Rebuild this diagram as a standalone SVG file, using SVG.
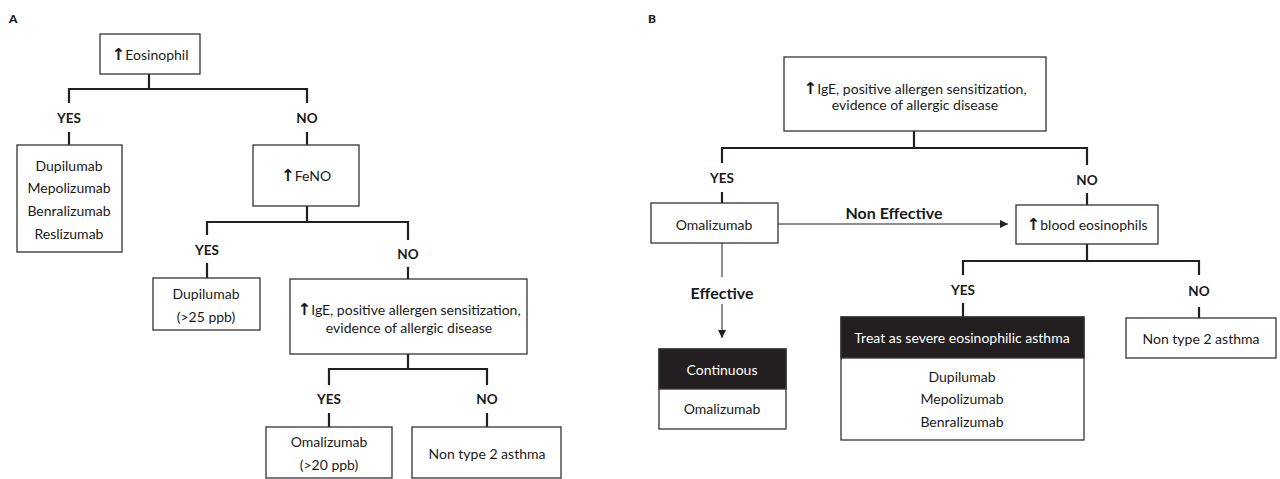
<svg xmlns="http://www.w3.org/2000/svg" width="1280" height="479" viewBox="0 0 1280 479">
<defs>
<style>
text{font-family:Lato,"Open Sans","Liberation Sans",sans-serif;font-size:14px;fill:#1a1a1a;text-anchor:middle;dominant-baseline:central}
.up{font-family:"DejaVu Sans",sans-serif;font-weight:700;font-size:16.5px}
.box{fill:#fff;stroke:#333;stroke-width:1.3}
.hdr{fill:#231f20;stroke:#333;stroke-width:1.3}
.br{fill:none;stroke:#231f20;stroke-width:2.2}
.ar{fill:none;stroke:#231f20;stroke-width:1}
.lab{font-weight:700;font-size:13.5px}
.big{font-weight:700;font-size:16px}
.panel{font-weight:900;font-size:12px;text-anchor:start}
.w{fill:#fff}
</style>
<marker id="ah" viewBox="0 0 10 10" refX="10" refY="5" markerWidth="8" markerHeight="8" markerUnits="userSpaceOnUse" orient="auto">
<path d="M0,0 L10,5 L0,10 z" fill="#231f20"/>
</marker>
</defs>
<rect width="1280" height="479" fill="#fff"/>
<text class="panel" x="9" y="18">A</text>
<text class="panel" x="648" y="18">B</text>

<g id="connectors">
<path class="br" d="M149,74 V89 M69,103 V89 H307 V103 M69,132 V145 M307,132 V145"/>
<path class="br" d="M307,206 V222 M207,235 V222 H408 V240 M207,263 V278 M408,267 V279"/>
<path class="br" d="M408,354 V369 M329,385 V369 H487 V385 M329,413 V427 M487,413 V427"/>
<path class="br" d="M914,131 V148 M722,163 V148 H1087 V165 M722,192 V203 M1087,193 V205"/>
<path class="br" d="M1087,244 V261 M963,275 V261 H1199 V275 M963,303 V317 M1199,307 V318"/>
<path class="ar" d="M778,224 H1008" marker-end="url(#ah)"/>
<path class="ar" d="M722,243 V277 M722,304 V338" marker-end="url(#ah)"/>
</g>

<g id="labels">
<text class="lab" x="69" y="118">YES</text>
<text class="lab" x="307" y="118">NO</text>
<text class="lab" x="207" y="250">YES</text>
<text class="lab" x="408" y="254">NO</text>
<text class="lab" x="329" y="399">YES</text>
<text class="lab" x="487" y="399">NO</text>
<text class="lab" x="722" y="178">YES</text>
<text class="lab" x="1087" y="180">NO</text>
<text class="lab" x="963" y="290">YES</text>
<text class="lab" x="1199" y="291">NO</text>
<text class="big" x="894" y="212">Non Effective</text>
<text class="big" x="722" y="292">Effective</text>
</g>

<g id="a-eosinophil">
<rect class="box" x="100" y="34" width="100" height="40"/>
<text x="150" y="54"><tspan class="up">↑</tspan>Eosinophil</text>
</g>
<g id="a-drugs">
<rect class="box" x="17" y="145" width="105" height="107"/>
<text x="69" y="165">Dupilumab</text>
<text x="69" y="187">Mepolizumab</text>
<text x="69" y="210">Benralizumab</text>
<text x="69" y="233">Reslizumab</text>
</g>
<g id="a-feno">
<rect class="box" x="253" y="145" width="106" height="61"/>
<text x="306" y="175"><tspan class="up">↑</tspan>FeNO</text>
</g>
<g id="a-dupilumab">
<rect class="box" x="153" y="278" width="107" height="52"/>
<text x="206" y="293">Dupilumab</text>
<text x="206" y="316">(&gt;25 ppb)</text>
</g>
<g id="a-ige">
<rect class="box" x="290" y="279" width="237" height="75"/>
<text x="409" y="309"><tspan class="up">↑</tspan>IgE, positive allergen sensitization,</text>
<text x="409" y="327">evidence of allergic disease</text>
</g>
<g id="a-omalizumab">
<rect class="box" x="266" y="427" width="126" height="51"/>
<text x="329" y="441">Omalizumab</text>
<text x="329" y="464">(&gt;20 ppb)</text>
</g>
<g id="a-nontype2">
<rect class="box" x="412" y="427" width="149" height="51"/>
<text x="487" y="453">Non type 2 asthma</text>
</g>

<g id="b-ige">
<rect class="box" x="784" y="57" width="262" height="74"/>
<text x="915" y="88"><tspan class="up">↑</tspan>IgE, positive allergen sensitization,</text>
<text x="915" y="104">evidence of allergic disease</text>
</g>
<g id="b-omalizumab">
<rect class="box" x="651" y="203" width="127" height="40"/>
<text x="714" y="224">Omalizumab</text>
</g>
<g id="b-blood">
<rect class="box" x="1016" y="205" width="142" height="39"/>
<text x="1087" y="224"><tspan class="up">↑</tspan>blood eosinophils</text>
</g>
<g id="b-continuous">
<rect class="box" x="659" y="349" width="127" height="80"/>
<rect class="hdr" x="659" y="349" width="127" height="40"/>
<text class="w" x="722" y="369">Continuous</text>
<text x="722" y="408">Omalizumab</text>
</g>
<g id="b-treat">
<rect class="box" x="841" y="317" width="243" height="123"/>
<rect class="hdr" x="841" y="317" width="243" height="41"/>
<text class="w" x="962" y="337">Treat as severe eosinophilic asthma</text>
<text x="962" y="376">Dupilumab</text>
<text x="962" y="398">Mepolizumab</text>
<text x="962" y="421">Benralizumab</text>
</g>
<g id="b-nontype2">
<rect class="box" x="1126" y="318" width="150" height="40"/>
<text x="1201" y="338">Non type 2 asthma</text>
</g>
</svg>
